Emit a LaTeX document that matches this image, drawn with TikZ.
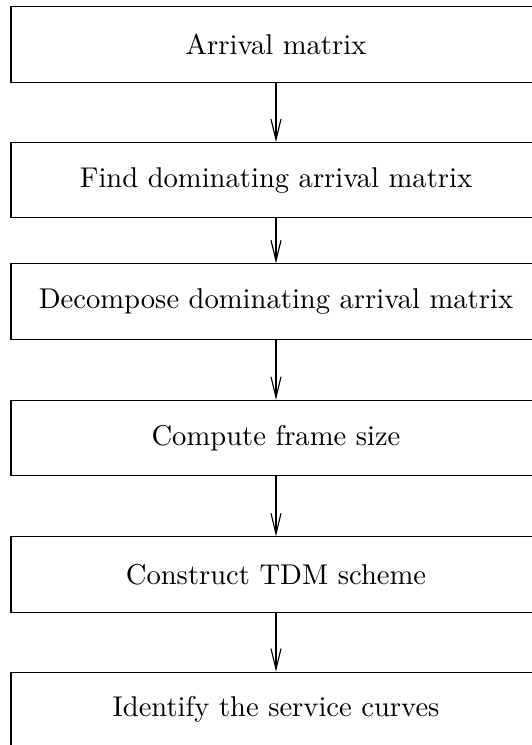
\documentclass[tikz,border=0pt]{standalone}
\usetikzlibrary{arrows.meta}
\begin{document}
\begin{tikzpicture}[x=0.3497pt, y=-0.3497pt,
  stepbox/.style={draw, line width=0.4pt, inner sep=0pt,
    minimum width=185.3pt, minimum height=26.3pt, font=\normalsize},
  flow/.style={line width=0.4pt, -{Straight Barb[length=7.2pt, width=3.5pt]}}]
  \useasboundingbox (0,0) rectangle (531,745);
  \node[stepbox] (a) at (276,44.5)  {Arrival matrix};
  \node[stepbox] (b) at (276,180.3) {Find dominating arrival matrix};
  \node[stepbox] (c) at (276,301.5) {Decompose dominating arrival matrix};
  \node[stepbox] (d) at (276,438)   {Compute frame size};
  \node[stepbox] (e) at (276,574.5) {Construct TDM scheme};
  \node[stepbox] (f) at (276,709.8) {Identify the service curves};
  \draw[flow] (a) -- (b);
  \draw[flow] (b) -- (c);
  \draw[flow] (c) -- (d);
  \draw[flow] (d) -- (e);
  \draw[flow] (e) -- (f);
\end{tikzpicture}
\end{document}
